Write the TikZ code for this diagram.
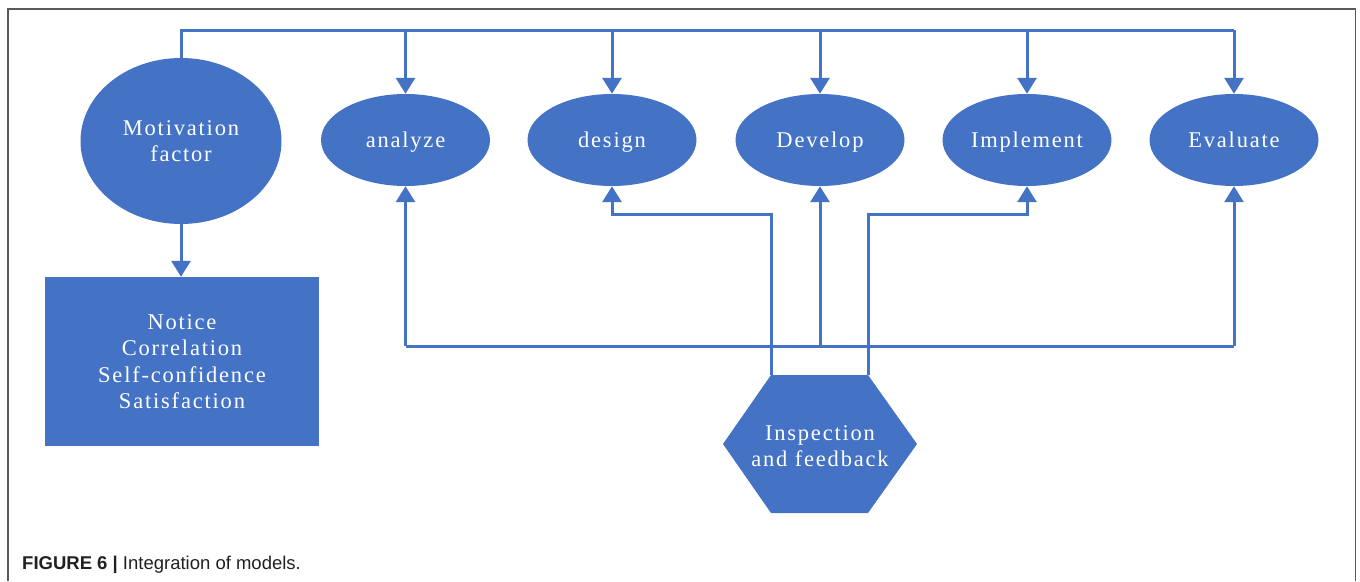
\documentclass[tikz,border=0pt]{standalone}
\usepackage{fontspec}
\setmainfont{Liberation Serif}
\newfontfamily\boxfont[LetterSpace=8]{Liberation Serif}
\newfontfamily\capfont{Liberation Sans}
\usetikzlibrary{shapes.geometric,arrows.meta,calc}
\definecolor{blu}{HTML}{4472C4}
\definecolor{framegray}{HTML}{5A5A5A}
\definecolor{capink}{HTML}{231F20}
\tikzset{
  txt/.style={text=white, align=center, font=\boxfont\fontsize{22.5}{26.5}\selectfont},
  oval/.style={ellipse, fill=blu, draw=none, inner sep=0pt,
               minimum width=169pt, minimum height=92pt, txt,
               text height=17pt, text depth=3pt},
  conn/.style={draw=blu, line width=3pt},
  arr/.style={conn, -{Triangle[width=19pt,length=16pt]}},
}
\begin{document}
\begin{tikzpicture}[x=1pt, y=-1pt]
\useasboundingbox (0,0) rectangle (1360,581);
% outer frame, open at the bottom
\draw[framegray, line width=1.8pt] (8,581) -- (8,9) -- (1355.5,9) -- (1355.5,581);

% motivation and its outcomes
\node[ellipse, fill=blu, inner sep=0pt, minimum width=201pt, minimum height=166pt, txt]
  (mot) at (181,141) {Motivation\\factor};
\node[fill=blu, inner sep=0pt, minimum width=274pt, minimum height=169pt, txt]
  (out) at (182,361.5) {Notice\\Correlation\\Self-confidence\\Satisfaction};

% the five stages
\node[oval] (ana) at (405.5,140) {analyze};
\node[oval] (des) at (612,140) {design};
\node[oval] (dev) at (820,140) {Develop};
\node[oval] (imp) at (1027,140) {Implement};
\node[oval] (eva) at (1234,140) {Evaluate};

% inspection hexagon
\coordinate (hexTL) at (771,375);
\coordinate (hexTR) at (868,375);
\fill[blu] (hexTL) -- (hexTR) -- (917,444) -- (868,513) -- (771,513) -- (723,444) -- cycle;
\node[txt, inner sep=0pt] (hex) at (820,446) {Inspection\\and feedback};

% rails
\coordinate (topY) at (0,30);
\coordinate (midY) at (0,214);
\coordinate (lowY) at (0,346);

% top rail from motivation to every stage
\draw[conn] (mot.north) -- (mot.north |- topY) -- (eva.north |- topY);
\foreach \n in {ana,des,dev,imp,eva}
  \draw[arr] (\n.north |- topY) -- (\n.north);

% motivation to outcomes
\draw[arr] (mot.south) -- (mot.south |- out.north);

% feedback to design and implement
\draw[arr] (hexTL) -- (hexTL |- midY) -| (des.south);
\draw[arr] (hexTR) -- (hexTR |- midY) -| (imp.south);

% lower rail to analyze, develop and evaluate
\draw[conn] (ana.south |- lowY) -- (eva.south |- lowY);
\foreach \n in {ana,dev,eva}
  \draw[arr] (\n.south |- lowY) -- (\n.south);

% caption
\node[anchor=base west, inner sep=0pt, text=capink, font=\capfont\fontsize{18.5}{22}\selectfont]
  (cap) at (22,569) {\textbf{FIGURE 6 |} Integration of models.};
\end{tikzpicture}
\end{document}
